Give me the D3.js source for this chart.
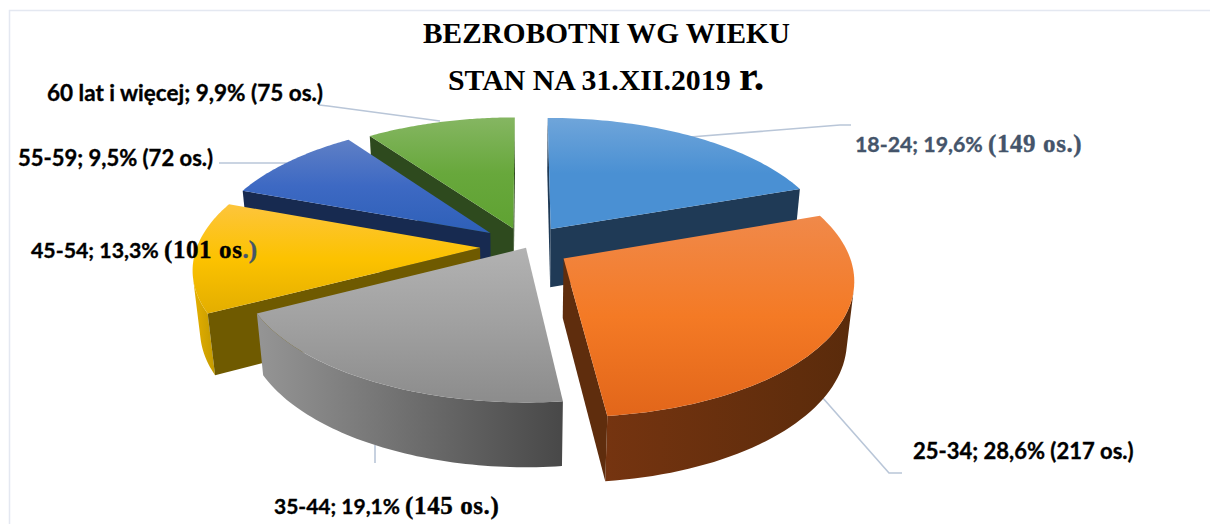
<!DOCTYPE html>
<html><head><meta charset="utf-8">
<script src="https://cdn.jsdelivr.net/npm/d3@7/dist/d3.min.js"></script>
<style>html,body{margin:0;padding:0;background:#fff}svg{display:block}</style>
</head><body><svg id="c" width="1210" height="524"></svg>
<script>
// --- data ---
const categories = ["18-24","25-34","35-44","45-54","55-59","60 lat i więcej"];
const counts = [149,217,145,101,72,75];
const percents = ["19,6%","28,6%","19,1%","13,3%","9,5%","9,9%"];
const titleLines = ["BEZROBOTNI WG WIEKU","STAN NA 31.XII.2019"];
// --- style ---
const topStops = [["#6fa5da","#4a90d3","#4a90d3"],["#f0894a","#f47a25","#e2661a"],["#b2b2b2","#a0a0a0","#8c8c8c"],["#fdc53c","#fcc200","#e3ae00"],["#5f80c6","#3d69c3","#2e60b8"],["#85b662","#68a83c","#5fa232"]];
const rimStops = [["#1f3a56","#1f3a56"],["#753410","#5a2b0b"],["#959595","#484848"],["#e6b000","#c39a00"],["#172a50","#172a50"],["#2e4a1e","#2e4a1e"]];
const wallColor = ["#1f3a56","#5f2d0d","#777","#6f5a00","#172a50","#2e4a1e"];
// per-slice displacement of the slice in disc units (exploded pie)
const explode = [[.089,-.085],[.131,.14],[0,.06],[-.162,.06],[-.128,-.054],[-.046,-.09]];
const paintOrder = [5,4,3,0,2,1];
// --- projection ---
const cx=526, cy=240, A=281, B=130, k=.143, q=.022, H=60;
function proj(px,py,z){const w=1-k*py+q*z;return [cx+A*px/w, cy+(B*py+H*z)/w];}
const svg=d3.select("#c"), defs=svg.append("defs");
const line=d3.line();
const arcs=d3.pie().sort(null).startAngle(0).endAngle(2*Math.PI)(counts);

// frame
svg.append("path").attr("d","M9.5,524V10.5H1210").attr("fill","none").attr("stroke","#e4e8f1").attr("stroke-width",1.5);

// leader lines
const leaders=[[[690,137],[840,125],[851,125]],[[822,397],[889,473],[902,473]],[[375,445],[375,463]],[[219,163],[290,163]],[[319,105],[328,106],[440,121]]];
svg.append("g").selectAll("path").data(leaders).join("path").attr("d",d=>line(d)).attr("fill","none").attr("stroke","#b9c6d8").attr("stroke-width",1.6);

function grad(id,stops,x1,y1,x2,y2){
  const g=defs.append("linearGradient").attr("id",id).attr("gradientUnits","userSpaceOnUse").attr("x1",x1).attr("y1",y1).attr("x2",x2).attr("y2",y2);
  stops.forEach((c,i)=>g.append("stop").attr("offset",i/(stops.length-1)).attr("stop-color",c));
  return `url(#${id})`;
}
const g=svg.append("g");
paintOrder.forEach(i=>{
  const a=arcs[i], off=explode[i], N=60;
  const angs=d3.range(N+1).map(j=>a.startAngle+(a.endAngle-a.startAngle)*j/N);
  const P=(t,z)=>proj(off[0]+Math.sin(t),off[1]-Math.cos(t),z);
  const apex=z=>proj(off[0],off[1],z);
  const top=[apex(0),...angs.map(t=>P(t,0))];
  const ys=top.map(p=>p[1]);
  // rim: only the segments that face the viewer
  const vis=[];
  for(let j=0;j<N;j++){
    const quad=[P(angs[j],0),P(angs[j+1],0),P(angs[j+1],1),P(angs[j],1)];
    if(d3.polygonArea(quad)>0) vis.push(j);
  }
  if(vis.length){
    const ts=[...vis.map(j=>angs[j]),angs[vis[vis.length-1]+1]];
    const poly=[...ts.map(t=>P(t,0)),...ts.slice().reverse().map(t=>P(t,1))];
    const ex=d3.extent(poly,p=>p[0]);
    g.append("path").attr("d",line(poly)+"Z").attr("fill",grad("rim"+i,rimStops[i],ex[0],0,ex[1],0));
  }
  // radial walls: rim end -> apex, apex -> rim start
  [[P(a.endAngle,0),apex(0),apex(1),P(a.endAngle,1)],[apex(0),P(a.startAngle,0),P(a.startAngle,1),apex(1)]].forEach(w=>{
    if(d3.polygonArea(w)>0) g.append("path").attr("d",line(w)+"Z").attr("fill",wallColor[i]);
  });
  // top face
  g.append("path").attr("d",line(top)+"Z").attr("fill",grad("top"+i,topStops[i],0,d3.min(ys),0,d3.max(ys)));
});

// title
const serif="'Liberation Serif',serif", sans="Lato,Carlito,sans-serif";
svg.append("text").attr("x",606.5).attr("y",43).attr("text-anchor","middle").attr("font-family",serif).attr("font-weight",700).attr("font-size",29.3).attr("fill","#000").text(titleLines[0]);
const t2=svg.append("text").attr("x",448).attr("y",90).attr("font-family",serif).attr("font-weight",700).attr("font-size",29.8).attr("fill","#000").text(titleLines[1]+" ");
t2.append("tspan").attr("font-size",42).attr("dx",1).text("r.");

// labels: x, baseline y, text colour, font size
const labelPos=[[855,152,"#44546a",21.3],[913,459,"#000",22],[274,514,"#000",21],[31,258,"#000",21.3],[18,166,"#000",22],[47,101,"#000",22.5]];
const serifFrom=[true,false,true,true,false,false];
categories.forEach((c,i)=>{
  const [x,y,col,fs]=labelPos[i];
  const t=svg.append("text").attr("x",x).attr("y",y).attr("font-weight",700).attr("font-size",fs).attr("font-family",sans).attr("fill",col).attr("stroke",col).attr("stroke-width",.35);
  if(serifFrom[i]){
    t.append("tspan").text(`${c}; ${percents[i]} `);
    const s=t.append("tspan").attr("font-family",serif).attr("font-size",25).attr("letter-spacing",.6);
    if(i===3){ s.text(`(${counts[i]} os`); t.append("tspan").attr("font-family",serif).attr("font-size",25).attr("fill","#44546a").attr("stroke","#44546a").text(".)"); }
    else s.text(`(${counts[i]} os.)`);
  } else t.text(`${c}; ${percents[i]} (${counts[i]} os.)`);
});
</script></body></html>
